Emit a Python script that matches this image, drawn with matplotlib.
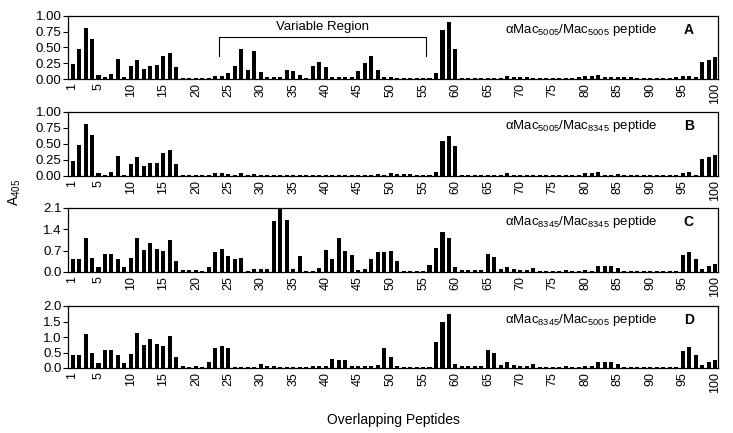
import numpy as np
import matplotlib
matplotlib.use('Agg')
import matplotlib.pyplot as plt

plt.rcParams['font.family'] = ['Liberation Sans', 'DejaVu Sans']
plt.rcParams['mathtext.fontset'] = 'custom'
plt.rcParams['mathtext.rm'] = 'Liberation Sans'
plt.rcParams['mathtext.it'] = 'Liberation Sans:italic'

peptides = np.arange(1, 101)
tick_pos = [1, 5, 10, 15, 20, 25, 30, 35, 40, 45, 50, 55, 60, 65, 70, 75, 80, 85, 90, 95, 100]

# A405 per overlapping peptide
panel_a = [0.235, 0.47, 0.81, 0.64, 0.07, 0.03, 0.08, 0.32, 0.03, 0.20,
           0.30, 0.16, 0.21, 0.22, 0.36, 0.41, 0.19, 0.02, 0.02, 0.02,
           0.02, 0.02, 0.04, 0.045, 0.09, 0.20, 0.48, 0.15, 0.45, 0.11,
           0.03, 0.03, 0.03, 0.14, 0.13, 0.06, 0.02, 0.20, 0.27, 0.19,
           0.03, 0.03, 0.03, 0.03, 0.12, 0.25, 0.37, 0.15, 0.03, 0.03,
           0.02, 0.02, 0.02, 0.02, 0.02, 0.02, 0.10, 0.78, 0.90, 0.47,
           0.02, 0.02, 0.02, 0.02, 0.02, 0.02, 0.02, 0.05, 0.035, 0.03,
           0.035, 0.02, 0.02, 0.02, 0.02, 0.02, 0.02, 0.02, 0.03, 0.045,
           0.045, 0.06, 0.03, 0.03, 0.035, 0.03, 0.03, 0.02, 0.02, 0.02,
           0.02, 0.02, 0.02, 0.03, 0.045, 0.055, 0.03, 0.27, 0.30, 0.345]

panel_b = [0.23, 0.48, 0.81, 0.64, 0.05, 0.02, 0.07, 0.31, 0.02, 0.19,
           0.29, 0.15, 0.20, 0.21, 0.36, 0.41, 0.18, 0.01, 0.01, 0.01,
           0.01, 0.015, 0.04, 0.04, 0.03, 0.015, 0.05, 0.015, 0.03, 0.01,
           0.01, 0.01, 0.02, 0.01, 0.01, 0.01, 0.01, 0.01, 0.01, 0.02,
           0.01, 0.015, 0.01, 0.015, 0.015, 0.015, 0.015, 0.03, 0.015, 0.04,
           0.025, 0.025, 0.025, 0.015, 0.015, 0.015, 0.06, 0.55, 0.63, 0.47,
           0.01, 0.01, 0.01, 0.01, 0.01, 0.01, 0.01, 0.04, 0.02, 0.01,
           0.02, 0.01, 0.01, 0.01, 0.01, 0.01, 0.01, 0.01, 0.01, 0.04,
           0.04, 0.055, 0.01, 0.02, 0.03, 0.02, 0.02, 0.01, 0.01, 0.01,
           0.01, 0.01, 0.01, 0.01, 0.04, 0.06, 0.01, 0.26, 0.29, 0.33]

panel_c = [0.43, 0.43, 1.10, 0.47, 0.17, 0.60, 0.60, 0.42, 0.15, 0.45,
           1.11, 0.73, 0.95, 0.76, 0.70, 1.04, 0.36, 0.05, 0.05, 0.06,
           0.04, 0.17, 0.66, 0.76, 0.54, 0.44, 0.46, 0.03, 0.09, 0.09,
           0.09, 1.66, 2.10, 1.69, 0.10, 0.54, 0.04, 0.04, 0.13, 0.71,
           0.42, 1.13, 0.69, 0.56, 0.07, 0.09, 0.42, 0.67, 0.67, 0.70,
           0.36, 0.04, 0.04, 0.04, 0.04, 0.22, 0.80, 1.31, 1.11, 0.17,
           0.08, 0.08, 0.06, 0.05, 0.58, 0.48, 0.10, 0.18, 0.10, 0.05,
           0.05, 0.13, 0.04, 0.04, 0.04, 0.04, 0.07, 0.04, 0.04, 0.08,
           0.04, 0.20, 0.20, 0.20, 0.13, 0.04, 0.04, 0.04, 0.04, 0.04,
           0.04, 0.04, 0.04, 0.04, 0.56, 0.65, 0.42, 0.10, 0.20, 0.25]

panel_d = [0.43, 0.43, 1.10, 0.48, 0.17, 0.59, 0.59, 0.42, 0.15, 0.46,
           1.12, 0.74, 0.95, 0.77, 0.70, 1.04, 0.37, 0.05, 0.03, 0.05,
           0.03, 0.18, 0.65, 0.70, 0.66, 0.03, 0.03, 0.03, 0.03, 0.12,
           0.06, 0.06, 0.03, 0.03, 0.03, 0.03, 0.03, 0.05, 0.05, 0.08,
           0.30, 0.25, 0.25, 0.08, 0.05, 0.05, 0.05, 0.10, 0.63, 0.36,
           0.05, 0.03, 0.03, 0.03, 0.03, 0.03, 0.83, 1.49, 1.74, 0.14,
           0.08, 0.08, 0.06, 0.06, 0.58, 0.48, 0.10, 0.18, 0.10, 0.05,
           0.05, 0.13, 0.03, 0.03, 0.03, 0.03, 0.07, 0.04, 0.04, 0.08,
           0.05, 0.20, 0.20, 0.20, 0.13, 0.04, 0.03, 0.03, 0.03, 0.03,
           0.03, 0.03, 0.03, 0.03, 0.56, 0.67, 0.42, 0.10, 0.20, 0.25]

panels = [
    (panel_a, [0, 0.25, 0.5, 0.75, 1.0], ['0.00', '0.25', '0.50', '0.75', '1.00'],
     'αMac$_{5005}$/Mac$_{5005}$ peptide', 'A'),
    (panel_b, [0, 0.25, 0.5, 0.75, 1.0], ['0.00', '0.25', '0.50', '0.75', '1.00'],
     'αMac$_{5005}$/Mac$_{8345}$ peptide', 'B'),
    (panel_c, [0, 0.7, 1.4, 2.1], ['0.0', '0.7', '1.4', '2.1'],
     'αMac$_{8345}$/Mac$_{8345}$ peptide', 'C'),
    (panel_d, [0, 0.5, 1.0, 1.5, 2.0], ['0.0', '0.5', '1.0', '1.5', '2.0'],
     'αMac$_{8345}$/Mac$_{5005}$ peptide', 'D'),
]

region_start, region_end = 23.5, 55.5

W, H = 733, 433
fig = plt.figure(figsize=(W / 100, H / 100), dpi=100)
boxes = [(16, 79), (112, 176), (208, 272), (306, 368)]
left, right = 68, 718

for (vals, yt, ytl, label, letter), (top, bot) in zip(panels, boxes):
    ax = fig.add_axes([left / W, 1 - bot / H, (right - left) / W, (bot - top) / H])
    ax.bar(peptides, vals, width=0.62, color='black')
    ax.set_xlim(0.3, 100.45)
    ax.set_ylim(0, yt[-1])
    ax.set_yticks(yt)
    ax.set_yticklabels(ytl, fontsize=9.5)
    ax.set_xticks(tick_pos)
    ax.set_xticklabels([str(t) for t in tick_pos], rotation=90, fontsize=9)
    ax.tick_params(axis='y', direction='out', length=3.5, width=0.8, pad=1)
    ax.tick_params(axis='x', length=0, pad=3)
    for s in ax.spines.values():
        s.set_linewidth(0.9)
    ax.text(0.79, 0.78, label, transform=ax.transAxes, ha='center', va='center', fontsize=9.5)
    ax.text(0.955, 0.78, letter, transform=ax.transAxes, ha='center', va='center',
            fontsize=10, fontweight='bold')
    if letter == 'A':
        ax.plot([region_start, region_start, region_end, region_end],
                [0.37, 0.67, 0.67, 0.37], color='black', lw=0.8)
        ax.text((region_start + region_end) / 2, 0.82, 'Variable Region',
                ha='center', va='center', fontsize=9.5)

fig.text(15 / W, 1 - 192 / H, 'A$_{405}$', rotation=90, ha='center', va='center', fontsize=10)
fig.text((left + right) / 2 / W, 1 - 420 / H, 'Overlapping Peptides', ha='center',
         va='center', fontsize=10)

fig.savefig('out.png', dpi=100)
